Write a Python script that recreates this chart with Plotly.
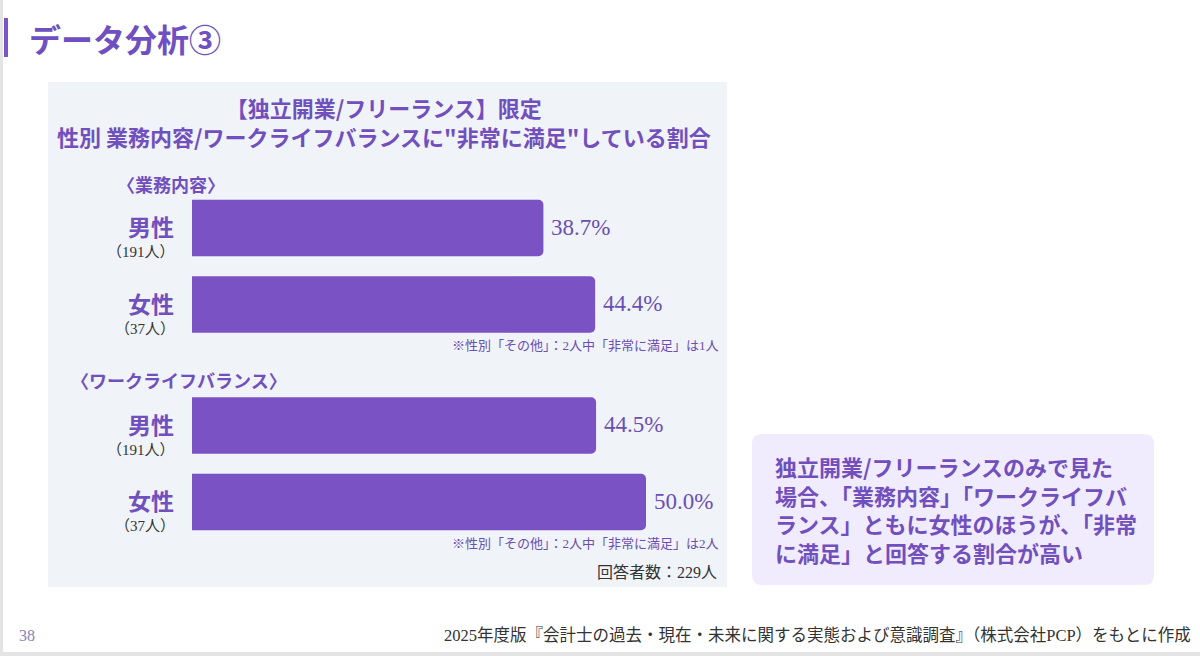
import plotly.graph_objects as go

W, H = 1200, 656

# ---- data ----
genders = ["男性", "女性"]
respondents = ["（191人）", "（37人）"]
work_content = [38.7, 44.4]
work_life = [44.5, 50.0]
section_titles = ["〈業務内容〉", "〈ワークライフバランス〉"]
notes = ["※性別「その他」：2人中「非常に満足」は1人", "※性別「その他」：2人中「非常に満足」は2人"]
total_text = "回答者数：229人"
chart_title = ["【独立開業/フリーランス】限定", "性別 業務内容/ワークライフバランスに\"非常に満足\"している割合"]
callout_lines = ["独立開業/フリーランスのみで見た", "場合、「業務内容」「ワークライフバ",
                 "ランス」ともに女性のほうが、「非常", "に満足」と回答する割合が高い"]
source_text = "2025年度版『会計士の過去・現在・未来に関する実態および意識調査』（株式会社PCP）をもとに作成"
page_no = "38"
slide_title = "データ分析③"

PURPLE = "#7b52c3"
TEXT_PURPLE = "#7150bd"
SANS = "Noto Sans CJK JP"
SERIF = "Liberation Serif, Noto Sans CJK JP"


def px(x):
    return x / W


def py(y):
    return 1 - y / H


fig = go.Figure()
groups = [(work_content, "y"), (work_life, "y2")]
for vals, ax in groups:
    fig.add_trace(go.Bar(
        x=vals, y=genders, orientation="h", yaxis=ax, xaxis="x",
        marker=dict(color=PURPLE, line=dict(width=0)),
        width=0.74, textposition="none",
        hoverinfo="skip", showlegend=False,
    ))

xdom = [px(192), px(192 + 60 * 9.08)]
fig.update_layout(
    width=W, height=H, margin=dict(l=0, r=0, t=0, b=0),
    paper_bgcolor="white", plot_bgcolor="rgba(0,0,0,0)",
    barcornerradius=5,
    font=dict(family=SANS),
    xaxis=dict(domain=xdom, range=[0, 60], visible=False, fixedrange=True),
    yaxis=dict(domain=[py(342.75), py(189.75)], autorange="reversed", visible=False,
               categoryorder="array", categoryarray=genders),
    yaxis2=dict(domain=[py(540.25), py(387.25)], autorange="reversed", visible=False,
                categoryorder="array", categoryarray=genders),
)

shapes = []
# left / bottom frame lines
shapes.append(dict(type="rect", xref="paper", yref="paper", x0=0, x1=px(3), y0=0, y1=1,
                   fillcolor="#e4e4e4", line=dict(width=0), layer="below"))
shapes.append(dict(type="rect", xref="paper", yref="paper", x0=0, x1=1, y0=0, y1=py(652),
                   fillcolor="#e4e4e4", line=dict(width=0), layer="below"))
# title bar
shapes.append(dict(type="rect", xref="paper", yref="paper", x0=px(4), x1=px(8), y0=py(57), y1=py(18),
                   fillcolor="#7b55c8", line=dict(width=0), layer="below"))
# chart panel
shapes.append(dict(type="rect", xref="paper", yref="paper", x0=px(48), x1=px(727), y0=py(587), y1=py(82),
                   fillcolor="#f0f3f8", line=dict(width=0), layer="below"))
fig.update_layout(shapes=shapes)

# callout box (rounded) via pixel-size path anchored at paper (0,1)
cx0, cy0, cx1, cy1, r = 752, 434, 1154, 585, 10
path = (f"M {cx0+r},{-cy0} L {cx1-r},{-cy0} Q {cx1},{-cy0} {cx1},{-cy0-r} L {cx1},{-cy1+r} "
        f"Q {cx1},{-cy1} {cx1-r},{-cy1} L {cx0+r},{-cy1} Q {cx0},{-cy1} {cx0},{-cy1+r} "
        f"L {cx0},{-cy0-r} Q {cx0},{-cy0} {cx0+r},{-cy0} Z")
fig.add_shape(type="path", xref="paper", yref="paper", xsizemode="pixel", ysizemode="pixel",
              xanchor=0, yanchor=1, path=path, fillcolor="#f1ecfd", line=dict(width=0), layer="below")

ann = []


def add(text, x, y, size, color, xanchor="left", bold=False, family=SANS, yref="paper",
        yshift=0, yval=None, xref="paper", xval=None, xshift=0, align="left"):
    ann.append(dict(text=f"<b>{text}</b>" if bold else text,
                    x=xval if xval is not None else px(x), xref=xref, xshift=xshift,
                    y=yval if yval is not None else py(y), yref=yref, yshift=yshift,
                    xanchor=xanchor, yanchor="middle", showarrow=False, align=align,
                    font=dict(family=family, size=size, color=color)))


add(slide_title, 27, 38, 32, "#7050c0", bold=True)
add("<br>".join(f"<b>{l}</b>" for l in chart_title), 384, 121, 22, TEXT_PURPLE,
    xanchor="center", align="center")
add(section_titles[0], 115, 184, 18, TEXT_PURPLE, bold=True)
add(section_titles[1], 69, 380, 18, TEXT_PURPLE, bold=True)

for vals, ax in groups:
    for g, n, v in zip(genders, respondents, vals):
        add(g, 176, 0, 23, TEXT_PURPLE, xanchor="right", bold=True, yref=ax, yval=g, yshift=2)
        add(n, 177, 0, 15, "#333333", xanchor="right", family=SERIF, yref=ax, yval=g, yshift=-24)
        add(f"{v:.1f}%", 0, 0, 23, "#6a4fb3", family=SERIF, xref="x", xval=v, xshift=6,
            yref=ax, yval=g, yshift=1)

add(notes[0], 721, 345, 13, "#6a4fb3", xanchor="right", family=SERIF)
add(notes[1], 721, 543, 13, "#6a4fb3", xanchor="right", family=SERIF)
add(total_text, 719, 572, 16, "#333333", xanchor="right", family=SERIF)

add("<br>".join(f"<b>{l}</b>" for l in callout_lines), 773, 509, 22, TEXT_PURPLE)

add(source_text, 1193, 635, 16.5, "#333333", xanchor="right", family=SERIF)
add(page_no, 17, 635, 16, "#8c84b4", family=SERIF)

fig.update_layout(annotations=ann)
fig.write_html("out.html", config={"displayModeBar": False},
               post_script="document.body.style.margin='0';document.body.style.padding='0';")
